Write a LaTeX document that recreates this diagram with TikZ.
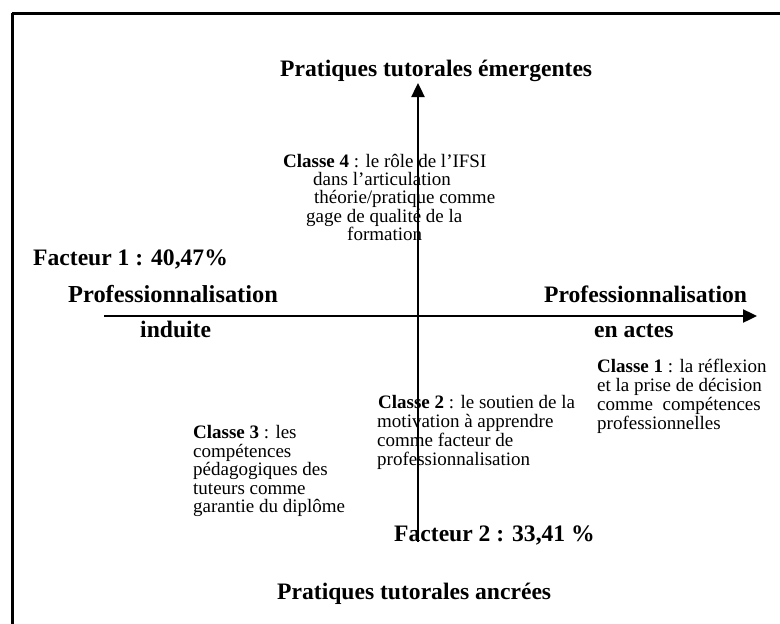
\documentclass[tikz,border=0pt]{standalone}
\usepackage{fontspec}
\setmainfont{Liberation Serif}
\usetikzlibrary{arrows.meta}
\begin{document}
\begin{tikzpicture}[x=1pt,y=-1pt,
  body/.style={font=\fontsize{19}{19}\selectfont, inner sep=0pt, anchor=base west},
  ttl/.style={font=\fontsize{23.6}{24}\selectfont\bfseries, inner sep=0pt, anchor=base west},
  axis/.style={line width=2.4pt, -{Triangle[length=14pt,width=13pt]}},
  frame/.style={line width=3pt}]
\useasboundingbox (0,0) rectangle (780,624);
\clip (0,0) rectangle (780,624);
\draw[frame] (12,13) -- (800,13);
\draw[frame] (12,13) -- (12,640);
% axes
\coordinate (vb) at (418,542);
\coordinate (vt) at (418,83);
\coordinate (hl) at (104,316);
\coordinate (hr) at (757,316);
\draw[axis] (vb) -- (vt);
\draw[axis] (hl) -- (hr);
% titles
\node[ttl] (top) at (280,76) {Pratiques tutorales émergentes};
\node[ttl] (bot) at (277,599) {Pratiques tutorales ancrées};
\node[ttl] (f1) at (33,265) {Facteur 1 : 40,47\%};
\node[ttl] (f2) at (394,541) {Facteur 2 : 33,41 \%};
\node[ttl, font=\fontsize{24.4}{25}\selectfont\bfseries] (pl) at (68,302) {Professionnalisation};
\node[ttl] (pr) at (544,302) {Professionnalisation};
\node[ttl] (ind) at (140,337) {induite};
\node[ttl] (ena) at (594,337) {en actes};
% Classe 4
\node[body] (c4a) at (283,167) {\textbf{Classe 4} : le rôle de l’IFSI};
\node[body] (c4b) at (313,185) {dans l’articulation};
\node[body] (c4c) at (314,203) {théorie/pratique comme};
\node[body] (c4d) at (306,222) {gage de qualité de la};
\node[body] (c4e) at (347,240) {formation};
% Classe 1
\node[body] (c1a) at (597,372) {\textbf{Classe 1} : la réflexion};
\node[body] (c1b) at (597,391) {et la prise de décision};
\node[body] (c1c) at (597,410) {comme\ \ compétences};
\node[body] (c1d) at (597,429) {professionnelles};
% Classe 2
\node[body] (c2a) at (378,408) {\textbf{Classe 2} : le soutien de la};
\node[body] (c2b) at (377,427) {motivation à apprendre};
\node[body] (c2c) at (377,446) {comme facteur de};
\node[body] (c2d) at (377,465) {professionnalisation};
% Classe 3
\node[body] (c3a) at (193,438) {\textbf{Classe 3} : les};
\node[body] (c3b) at (193,457) {compétences};
\node[body] (c3c) at (193,475) {pédagogiques des};
\node[body] (c3d) at (193,494) {tuteurs comme};
\node[body] (c3e) at (193,512) {garantie du diplôme};
\end{tikzpicture}
\end{document}
